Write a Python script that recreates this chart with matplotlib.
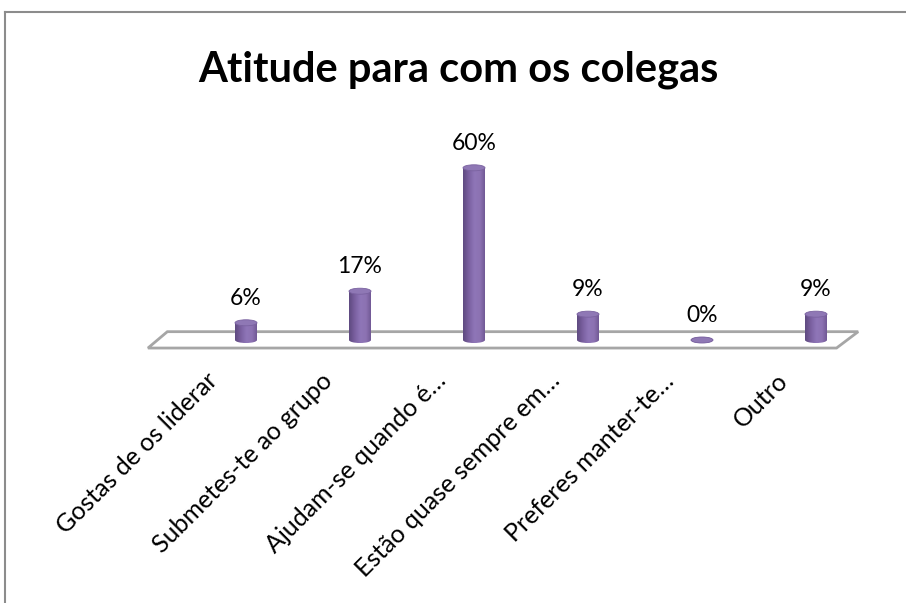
import matplotlib
matplotlib.use("Agg")
import matplotlib.pyplot as plt
import numpy as np
from matplotlib.path import Path
from matplotlib.patches import PathPatch, Ellipse, Polygon
from matplotlib.transforms import Affine2D
from matplotlib.colors import LinearSegmentedColormap
from matplotlib.lines import Line2D

plt.rcParams['font.family'] = ['Lato', 'DejaVu Sans']

# data
categories = ['Gostas de os liderar', 'Submetes-te ao grupo', 'Ajudam-se quando é…',
              'Estão quase sempre em…', 'Preferes manter-te…', 'Outro']
values = [6, 17, 60, 9, 0, 9]
value_labels = ['6%', '17%', '60%', '9%', '0%', '9%']
title = 'Atitude para com os colegas'

W, H = 906, 603
fig = plt.figure(figsize=(W / 100, H / 100), dpi=100)

# axes placed so that bar 0 sits at x=246px, spacing 114px, floor at y=340px
px_x, x0 = 114.0, 246.0
px_y, y0 = 2.87, 340.0
xlim = (-1.0, 5.75)
ylim = (-12, 75)
left = (x0 + xlim[0] * px_x) / W
right = (x0 + xlim[1] * px_x) / W
bottom = 1 - (y0 - ylim[0] * px_y) / H
top = 1 - (y0 - ylim[1] * px_y) / H
ax = fig.add_axes([left, bottom, right - left, top - bottom])
ax.set_axis_off()

# floor
floor = Polygon([(-0.86, -2.8), (5.18, -2.8), (5.37, 2.9), (-0.69, 2.9)],
                closed=True, facecolor='white', edgecolor='#a6a6a6', lw=2, zorder=1)
ax.add_patch(floor)

bw = 0.193
eh = 2.1
cmap = LinearSegmentedColormap.from_list('cyl', ['#5e4a80', '#7a60a0', '#8f76b8', '#8c72b2', '#6c5490'])
grad = np.linspace(0, 1, 64).reshape(1, -1)

bars = ax.bar(range(len(values)), values, width=bw, color='none', zorder=2)
for i, (b, v) in enumerate(zip(bars, values)):
    xl = b.get_x()
    rect = Path.unit_rectangle().transformed(Affine2D().scale(bw, v).translate(xl, 0))
    ell = Path.unit_circle().transformed(Affine2D().scale(bw / 2, eh / 2).translate(i, 0))
    body = Path.make_compound_path(rect, ell)
    pp = PathPatch(body, facecolor='none', edgecolor='none', transform=ax.transData)
    ax.add_patch(pp)
    im = ax.imshow(grad, extent=[xl, xl + bw, -eh, v + eh], aspect='auto', cmap=cmap,
                   zorder=3, interpolation='bicubic')
    im.set_clip_path(pp)
    ax.add_patch(Ellipse((i, v), bw, eh, facecolor='#8f78b5', edgecolor='#7a62a0',
                         lw=0.6, zorder=4))
    ax.text(i, v + 8.6, value_labels[i], ha='center', va='center', fontsize=16.5,
            color='black', zorder=5)

for i, c in enumerate(categories):
    ax.text(i - 0.35, -10.0, c, rotation=45, rotation_mode='anchor', ha='right', va='top',
            fontsize=18, color='black', clip_on=False)

ax.set_xlim(*xlim)
ax.set_ylim(*ylim)

fig.text(458 / W, 1 - 70 / H, title, ha='center', va='center', fontsize=30,
         fontweight='bold', color='black')

# chart border (left and top visible)
fig.add_artist(Line2D([5 / W, 5 / W], [0, 1 - 12 / H], transform=fig.transFigure,
                      color='#8c8c8c', lw=1.5))
fig.add_artist(Line2D([5 / W, 1], [1 - 12 / H, 1 - 12 / H], transform=fig.transFigure,
                      color='#8c8c8c', lw=1.5))

fig.savefig('out.png', dpi=100, facecolor='white')
